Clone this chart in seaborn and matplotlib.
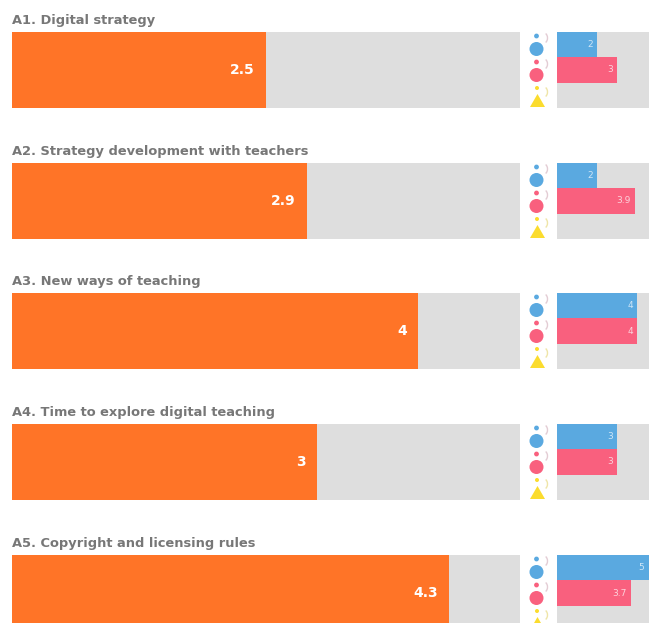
import matplotlib
matplotlib.use("Agg")
import matplotlib.pyplot as plt
import matplotlib.patches as mpatches
import pandas as pd
import seaborn as sns

titles = ["A1. Digital strategy", "A2. Strategy development with teachers",
          "A3. New ways of teaching", "A4. Time to explore digital teaching",
          "A5. Copyright and licensing rules"]
overall = [2.5, 2.9, 4, 3, 4.3]
overall_labels = ["2.5", "2.9", "4", "3", "4.3"]
blue = [2, 2, 4, 3, 5]
blue_labels = ["2", "2", "4", "3", "5"]
red = [3, 3.9, 4, 3, 3.7]
red_labels = ["3", "3.9", "4", "3", "3.7"]
groups = ["blue", "red", "yellow"]

W, H = 649, 623
row_tops = [32, 163, 293, 424, 555]
ROW_H = 76

ORANGE = "#ff7427"
GREY = "#dedede"
BLUE = "#5aa9e0"
RED = "#f9607e"
YELLOW = "#fbdc2e"
TEXT = "#777777"

sns.set_theme(style="white")
plt.rcParams["font.family"] = ["DejaVu Sans"]

fig = plt.figure(figsize=(W / 100, H / 100), dpi=100)


def px_axes(x0, y0, w, h):
    return fig.add_axes([x0 / W, 1 - (y0 + h) / H, w / W, h / H])


def clean(ax, xmax):
    ax.set_xlim(0, xmax)
    ax.set_facecolor(GREY)
    ax.set_xlabel("")
    ax.set_ylabel("")
    ax.set_xticks([])
    ax.set_yticks([])
    sns.despine(ax=ax, left=True, bottom=True)


# overlay for the little icons, in pixels
over = fig.add_axes([0, 0, 1, 1], zorder=5)
over.set_xlim(0, W)
over.set_ylim(H, 0)
over.axis("off")


def icons(top):
    for cy, col in [(top + 17, BLUE), (top + 43, RED)]:
        over.add_patch(mpatches.Circle((536.5, cy), 7, color=col, lw=0))
        over.add_patch(mpatches.Circle((536.5, cy - 13), 2.4, color=col, lw=0))
        over.add_patch(mpatches.Arc((544, cy - 11), 7, 10, theta1=-70, theta2=70,
                                    color="#e3ccd4", lw=1))
    over.add_patch(mpatches.Polygon([(530, top + 75), (545, top + 75), (537.5, top + 62)],
                                    color=YELLOW, lw=0))
    over.add_patch(mpatches.Circle((537, top + 56), 2, color=YELLOW, lw=0))
    over.add_patch(mpatches.Arc((544, top + 60), 7, 10, theta1=-70, theta2=70,
                                color="#efe5a8", lw=1))


for i, top in enumerate(row_tops):
    fig.text(12 / W, 1 - (top - 8) / H, titles[i], fontsize=9.4, fontweight="bold",
             color=TEXT, ha="left", va="baseline")

    # main bar
    ax = px_axes(12, top, 508, ROW_H)
    df = pd.DataFrame({"value": [overall[i]], "name": [titles[i]]})
    sns.barplot(data=df, x="value", y="name", color=ORANGE, width=1, saturation=1,
                linewidth=0, ax=ax)
    ax.annotate(overall_labels[i], (overall[i], 0), xytext=(-8, 0), textcoords="offset points",
                ha="right", va="center", color="white", fontsize=10, fontweight="bold")
    clean(ax, 5)

    # side bars, axis runs off the right edge of the page
    ax2 = px_axes(557, top, 100, ROW_H)
    df2 = pd.DataFrame({"group": groups, "value": [blue[i], red[i], 0]})
    sns.barplot(data=df2, x="value", y="group", hue="group", palette=[BLUE, RED, YELLOW],
                width=1, saturation=1, linewidth=0, legend=False, ax=ax2)
    # the full bar ends past the page, pull its label back in
    pad = -9 if blue[i] == 5 else -3
    ax2.annotate(blue_labels[i], (blue[i], 0), xytext=(pad, 0), textcoords="offset points",
                 ha="right", va="center", color="#cfe6f7", fontsize=6.5)
    ax2.annotate(red_labels[i], (red[i], 1), xytext=(-3, 0), textcoords="offset points",
                 ha="right", va="center", color="#fcd3dc", fontsize=6.5)
    clean(ax2, 5)

    icons(top)

fig.savefig("out.png", dpi=100)
